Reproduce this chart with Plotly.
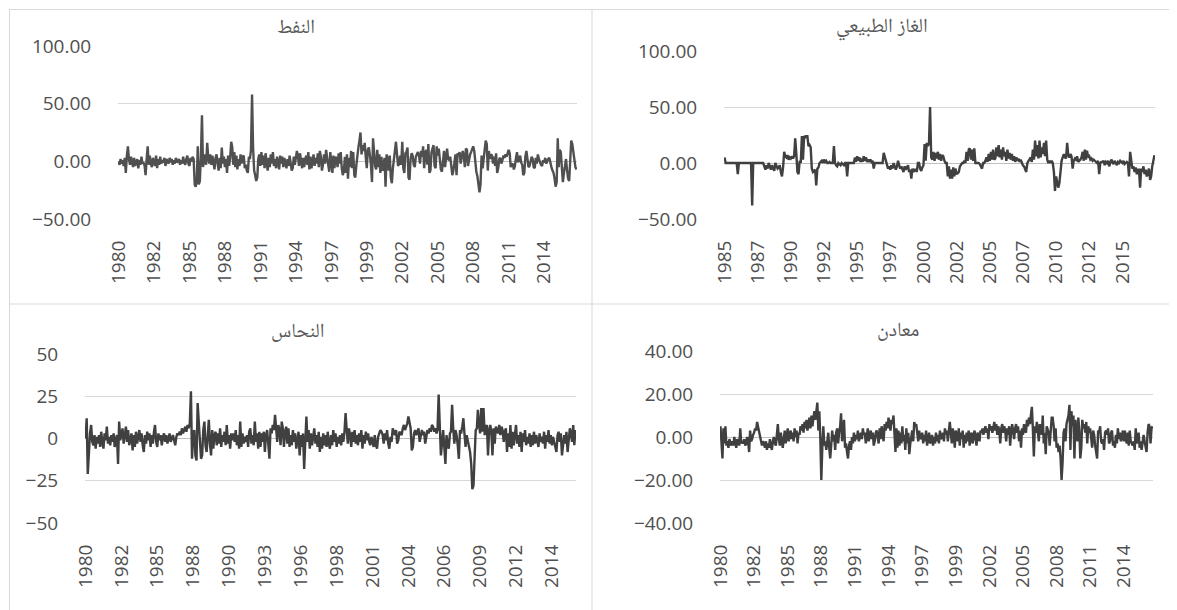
import pandas as pd
import plotly.graph_objects as go

# ---------------- data (monthly % changes) ----------------
oil_title = "النفط"
oil_start = "1980-01-01"
oil_values = [
    0, -3, 2, -2, 1, -4, 3, -10, 5, 13, 2, -3,
    4, -2, -5, 3, -4, -1, 2, -6, 1, -3, 4, -2,
    -1, -4, -12, 2, 13, -3, 5, -2, -5, 3, -1, -4,
    5, -6, 2, -3, 4, -2, 1, -1, 3, -4, 2, 0,
    -2, 3, -1, 2, -3, 1, -2, 3, -1, 0, 2, -3,
    1, -2, 4, -1, -3, 2, 5, -2, -4, 3, 0, 4,
    2, -20, -22, -18, 13, -20, -17, 5, 40, -5, 2, 6,
    -3, 16, 4, -2, 6, -3, 5, -4, -7, 3, 6, -2,
    -8, 3, -6, 12, -2, 4, -5, 2, -10, 5, -4, 3,
    17, 12, -3, 8, -5, 5, -7, 2, -4, 6, -2, 4,
    5, -6, -3, -8, -10, 4, 2, 10, 58, 12, -8, -12,
    -17, -14, 2, 6, -4, 8, -3, 5, -6, 7, -2, -8,
    3, -5, 6, -2, 8, -4, 2, -6, 4, -3, -7, 5,
    -2, 4, -5, 3, -1, -6, 2, -4, 5, -3, -8, -6,
    4, -3, 2, 9, 5, -4, 7, -2, -6, 3, -5, 2,
    5, -3, 8, -7, 4, -6, 2, 6, -4, 3, -2, 7,
    -5, 9, 4, -8, -3, 6, -2, 10, 3, -4, -9, 8,
    -3, -10, 5, -6, 4, 2, -5, 7, -2, 8, -6, -12,
    -8, 4, -10, 6, -15, 3, -5, 9, -6, 8, -12, -14,
    -3, 8, 12, 18, 25, 6, 14, 9, 16, 4, -6, 10,
    12, 5, -3, -18, 20, 8, -4, -7, 10, -5, 6, -10,
    4, -8, -5, 3, -22, 6, 2, -8, 5, -14, -19, -6,
    3, 8, 17, 6, -4, -2, 5, -3, 17, -6, -10, 7,
    8, 12, -14, -16, 2, 7, 5, -3, -5, 4, 6, 8,
    5, -2, 9, 4, 13, -6, 7, 10, -3, 15, -10, -8,
    8, 12, 14, -4, -6, 13, 5, 11, -2, -7, -9, 3,
    9, -5, 4, 11, 2, 1, 4, -3, -12, -8, 2, 6,
    -12, 7, 5, 8, -2, 3, 9, 4, -5, 11, 10, -4,
    3, 6, 8, 10, 13, 9, -3, -9, -13, -22, -27, -20,
    5, -6, 6, 10, 18, 15, -8, 9, 2, 6, 5, -2,
    4, -4, 7, -10, -6, 2, 3, -2, 1, 5, 3, 6,
    4, 8, 10, 7, -5, -3, -2, -7, -4, 3, 8, -1,
    2, 5, -1, -3, -12, -10, 4, 9, 2, -5, -4, 1,
    4, 2, -5, -6, 3, -2, 6, 2, -1, -3, -4, 1,
    -1, 3, -2, 1, 2, 3, -3, -5, -8, -10, -15, -22,
    -18, 20, -5, 10, 8, -3, -18, -10, -5, 2, -8, -15,
    -17, 2, 18, 15, 8, 2, -5, -7,
]

gas_title = "الغاز الطبيعي"
gas_start = "1985-01-01"
gas_values = [
    5, 0, 0, 0, 0, 0, 0, 0, 0, 0, 0, 0,
    -10, 0, 0, 0, 0, 0, 0, 0, 0, 0, 0, 0, 0,
    -38, 0, 0, 0, 0, 0, 0, 0, 0, 0, 0, -3,
    -6, -2, -5, 0, -3, -6, -2, -4, -7, 0, -3, -5, -4,
    -2, -8, -12, -4, 10, 6, 5, 7, 3, 5, 4, 6,
    4, 6, 22, 8, -8, -10, 2, 0, 24, 3, 24, 23,
    24, 24, 15, 16, 14, -5, -8, -7, -6, -20, -5, -4, 0,
    1, 2, 0, 3, 1, 2, 0, 0, 1, 0, 0, 0,
    15, 0, -2, -3, 0, -1, -2, 0, -1, -2, 0, 0,
    -12, 0, 0, 0, 0, 0, 0, 5, 1, 6, 2, 5, 1,
    4, 1, 6, 2, 5, 1, 3, 1, 3, 1, 2, -5,
    0, 0, 0, 0, 0, 0, 0, 0, 9, 5, 3, 0, -5,
    -3, -6, -2, -5, 0, -4, -6, -3, 2, -2, -5, -3,
    -5, -8, -3, -6, -4, -2, -8, -6, -14, -5, -8, -6,
    -6, -8, 0, 0, -5, -7, -4, -2, 17, 2, 18, 15, 18,
    50, 5, 3, 10, 2, 9, 4, 10, 3, 8, 2, 7,
    6, 2, 0, 0, -12, -3, -14, -6, -14, -4, -12, -5,
    -10, -9, -8, -3, -1, 0, 0, 2, 0, 10, 2, 12, 13,
    3, 12, 2, 13, 0, 0, 0, 0, -1, -3, -5, 0,
    0, 2, 5, 1, 8, 2, 10, 3, 12, 3, 4, 14, 6,
    16, 5, 12, 3, 14, 6, 10, 2, 12, 4, 9, 3,
    8, 2, 6, 1, 5, 2, 4, 1, 3, 0, -2, -3,
    -5, -8, 0, 2, 3, 5, 1, 12, 3, 20, 6, 16, 4,
    20, 5, 14, 8, 18, 6, 20, 3, 0, 2, 0, 2,
    0, -8, -25, -12, -20, -22, -18, -5, 2, 5, 8, 5, 4,
    18, 7, 5, 8, 6, -5, 2, 4, 3, 6, 1, 2,
    3, 5, 10, 2, 12, 3, 11, 5, 6, 3, 4, 2,
    3, 2, 1, 0, 2, -10, 0, 1, 1, 2, -2, 1, 0,
    2, -3, 0, 3, 1, -1, 2, 0, -2, 1, 0, 2,
    1, 0, 2, -1, 0, 1, 0, -12, 10, 2, -5, -3,
    -8, -4, -10, -6, -6, -22, -5, -8, -3, -10, -6, -12, -8,
    -5, -15, -12, -3, 2, 7,
]

copper_title = "النحاس"
copper_start = "1980-01-01"
copper_values = [
    0, 12, -21, -5, 3, 8, -2, -4, 2, -6, 1, -3,
    2, -5, 4, -2, -6, 3, -1, 7, -3, 1, -4, 2,
    -2, 3, -5, -1, 2, -15, 10, -1, 3, 6, -3, 2,
    7, -2, 5, -4, -1, 3, -7, 2, -5, 4, -3, 1,
    5, -2, 3, -4, -8, 2, -3, 4, -1, 3, -5, 2,
    -3, 4, 8, -2, -5, 3, -1, 2, -4, 1, 3, -2,
    2, -3, 1, 3, -2, 0, 2, -1, -4, 1, 3, 2,
    4, 2, 6, 3, 5, 7, 4, 8, 6, 9, 28, -12,
    3, 5, -10, -13, 21, 8, -6, -12, -10, 5, 10, -4,
    -8, 6, 11, -3, -10, 5, -6, 2, 4, -4, 3, -3,
    6, -5, 2, -2, 4, -4, 8, -3, 2, -6, 3, -1,
    3, -2, 5, -4, 2, -6, 10, -5, 3, -3, 1, -2,
    2, -5, 4, 6, -3, 2, -4, 10, -2, 3, -6, 4,
    -5, 3, -2, 4, -8, 2, 5, -3, -12, 6, 3, 8,
    5, 14, 3, -2, 8, 5, -4, 10, 6, -5, 4, 7,
    -3, 6, -5, 2, -4, 5, -2, 3, -6, 1, 4, -10,
    2, -5, 3, -18, -4, 13, -2, 5, -6, 3, -4, 2,
    6, -3, 2, -5, 4, -8, 1, -6, 3, -4, 2, -5,
    4, -3, -6, 2, -4, 5, -2, 3, -5, 1, -3, 2,
    -4, 3, -2, 4, 15, 5, -3, 6, 2, -5, 4, -2,
    5, -3, 2, -4, 3, -2, 5, -6, 2, -3, 4, -1,
    3, -2, -4, 1, -3, -5, 2, -4, -6, 1, 3, 5,
    4, 2, -3, 3, -1, 5, -3, -6, 1, -2, 6, 4,
    2, 5, -3, -1, 4, 3, 2, 6, 8, 5, 7, 9,
    13, 10, 6, -7, -5, 3, 5, 2, 4, 6, -2, 3,
    5, 2, 4, -3, 2, 5, 3, 6, 4, 8, 7, 4,
    6, 3, 5, 26, 8, -10, -3, 5, -5, -15, 2, -4,
    -6, 3, 4, 20, 6, -3, 5, 2, -4, -12, 5, 3,
    7, 12, 3, -5, 2, -2, -5, -8, -15, -30, -28, -10,
    5, 6, 17, 8, 3, 18, 4, 18, 2, 6, 8, -10,
    5, 8, 4, -10, 6, -3, 7, 5, 3, 8, 2, 7,
    5, -2, 4, 6, -8, 3, -5, 8, -6, 4, -4, 2,
    8, -3, 2, -5, 4, -8, 3, -2, 5, -4, 1, -3,
    3, -5, 2, -4, 4, -3, 2, -1, -5, 3, -2, 1,
    -3, 4, -6, 2, -2, 5, -3, 2, -4, 1, -2, -3,
    -8, 2, 4, -2, 3, -10, -5, 2, -3, 4, -8, -2,
    6, 3, -2, 8, -4, 5,
]

minerals_title = "معادن"
minerals_start = "1980-01-01"
minerals_values = [
    5, -2, -10, 4, -3, 5, -4, -2, -5, -1, -3, -4,
    -2, -4, 0, -3, -5, -1, -2, -4, 4, -3, -2, -3,
    -1, -4, -3, 0, -2, -7, 3, -2, -1, 1, 2, 4,
    3, 7, 5, 2, 0, -2, -4, -2, -3, -5, -2, -6,
    -3, -5, -1, -4, -6, -2, 0, -3, -4, 1, 6, -1,
    -4, 2, -2, -5, -1, 3, -3, 0, 4, -2, 1, 3,
    -1, 2, -2, 4, 0, 3, -3, 2, 1, 5, 3, 6,
    2, 7, 4, 8, 3, 6, 9, 4, 10, 5, 8, 12,
    8, 12, 16, 3, 12, -1, -20, -5, 5, -4, -2, -6,
    -3, 2, -5, -10, -4, 3, -2, 1, -6, 2, 4, -3,
    2, 5, 11, -2, 3, 8, -5, -3, -7, -10, -4, -2,
    -6, 0, -3, 2, -2, 1, -1, 3, -2, 0, 2, -1,
    4, 1, 2, -3, 0, 4, -2, 1, 3, -1, 2, -4,
    -2, 2, 3, 0, -3, 4, -1, 5, 2, -2, 6, 3,
    7, 4, 9, 5, 3, 8, 6, 10, 2, -7, 4, -5,
    3, -4, 2, -3, 5, -2, 1, -6, 4, -3, 2, -8,
    -3, 1, 3, -2, 7, 5, 6, 2, -2, 3, -1, 0,
    2, -3, 1, -2, 3, -4, -1, 2, -3, -2, 1, -4,
    0, -3, 2, -2, 1, -3, 3, -1, 0, 2, -2, 4,
    1, 3, -2, 5, 7, 2, -3, 4, 1, -5, 3, 0,
    -2, 4, -4, 2, -1, 3, -5, 1, -3, 2, -2, 3,
    -4, 1, 2, -3, 0, 3, -1, -4, 2, 1, -2, 3,
    2, 4, 1, 3, 5, 2, 4, -1, 6, 3, 5, 2,
    4, 7, 3, 6, 1, 5, 3, -3, 4, 6, 2, 5,
    3, -2, 4, 1, 5, -4, 2, 6, 3, -1, 4, 6,
    2, 5, -2, 3, -5, 4, 1, 6, 3, 2, 8, 5,
    9, 6, 10, 14, 4, -9, 5, 2, 7, 3, -2, 6,
    4, 1, 10, -3, 2, -8, 5, 3, 2, -4, 6, 9,
    9, 5, -2, 4, -5, -3, -7, -4, -10, -20, -12, 2,
    4, -2, 6, 8, 10, 15, -6, 12, 5, 10, -10, 8,
    4, -2, 9, 3, -10, -5, 8, 4, 6, 2, 7, -3,
    5, 2, 4, -2, -5, 3, 1, -4, -8, -10, 3, 2,
    5, -2, -3, -1, -6, 2, 3, 1, 4, -3, -2, 2,
    3, -4, -2, -5, 1, -3, 4, -1, 2, -2, 0, 3,
    -2, 3, -1, -3, 2, -4, 3, -2, -3, -4, -2, -6,
    4, -3, -1, 2, -5, -2, -6, -3, 1, -2, -4, -7,
    2, 6, 5, -3, 4, 5,
]

oil_yticks = [-50, 0, 50, 100]
gas_yticks = [-50, 0, 50, 100]
copper_yticks = [-50, -25, 0, 25, 50]
minerals_yticks = [-40, -20, 0, 20, 40]

# label every n-th month (category-axis label interval)
oil_label_step = 34
gas_label_step = 30
copper_label_step = 32
minerals_label_step = 34

# ---------------- layout (pixels) ----------------
W, H = 1177, 610
TICK_FONT = dict(family="Open Sans, Segoe UI, Calibri, sans-serif", size=19, color="#4f4f4f")
TITLE_FONT = dict(family="Times New Roman, Noto Naskh Arabic, DejaVu Sans, serif", size=20, color="#595959")
GRID = "#d9d9d9"

panels = [
    dict(title=oil_title, start=oil_start, values=oil_values, yticks=oil_yticks,
         fmt=".2f", step=oil_label_step, px=(110, 569), py=(38, 211),
         tpos=(288, 18), color="#505050"),
    dict(title=gas_title, start=gas_start, values=gas_values, yticks=gas_yticks,
         fmt=".2f", step=gas_label_step, px=(716, 1147), py=(43, 211),
         tpos=(874, 19), color="#404040"),
    dict(title=copper_title, start=copper_start, values=copper_values, yticks=copper_yticks,
         fmt="d", step=copper_label_step, px=(77, 568), py=(346, 515),
         tpos=(289, 322), color="#404040"),
    dict(title=minerals_title, start=minerals_start, values=minerals_values, yticks=minerals_yticks,
         fmt=".2f", step=minerals_label_step, px=(712, 1145), py=(343, 515),
         tpos=(890, 321), color="#404040"),
]

fig = go.Figure()
layout = dict(width=W, height=H, margin=dict(l=0, r=0, t=0, b=0),
              template="none", paper_bgcolor="white", plot_bgcolor="white",
              showlegend=False)
annotations = []

for i, p in enumerate(panels, start=1):
    xa = "x" if i == 1 else f"x{i}"
    ya = "y" if i == 1 else f"y{i}"
    dates = pd.date_range(p["start"], periods=len(p["values"]), freq="MS")
    fig.add_trace(go.Scatter(x=dates, y=p["values"], mode="lines",
                             line=dict(color=p["color"], width=2.4),
                             xaxis=xa, yaxis=ya, hoverinfo="skip"))
    ticks = dates[::p["step"]]
    x0, x1 = p["px"]
    y0, y1 = p["py"]
    layout["xaxis" if i == 1 else f"xaxis{i}"] = dict(
        domain=[x0 / W, x1 / W], anchor=ya, type="date",
        range=[str(dates[0] - pd.Timedelta(days=15)), str(dates[-1] + pd.Timedelta(days=15))],
        tickmode="array", tickvals=[str(t) for t in ticks],
        ticktext=[str(t.year) for t in ticks], tickangle=-90,
        showgrid=False, zeroline=False, showline=False,
        ticks="outside", ticklen=13, tickcolor="rgba(0,0,0,0)",
        tickfont=TICK_FONT, automargin=False, fixedrange=True)
    layout["yaxis" if i == 1 else f"yaxis{i}"] = dict(
        domain=[(H - y1) / H, (H - y0) / H], anchor=xa,
        range=[p["yticks"][0], p["yticks"][-1]],
        tickmode="array", tickvals=p["yticks"], tickformat=p["fmt"],
        showgrid=True, gridcolor=GRID, gridwidth=1,
        zeroline=True, zerolinecolor="#bfbfbf", zerolinewidth=1,
        showline=False, ticks="outside", ticklen=22, tickcolor="rgba(0,0,0,0)",
        tickfont=TICK_FONT, automargin=False, fixedrange=True)
    annotations.append(dict(text=p["title"], x=p["tpos"][0] / W, y=1 - p["tpos"][1] / H,
                            xref="paper", yref="paper", showarrow=False,
                            xanchor="center", yanchor="middle", font=TITLE_FONT))

# chart borders
def hline(y, xa_, xb_):
    return dict(type="line", xref="paper", yref="paper", x0=xa_ / W, x1=xb_ / W,
                y0=1 - y / H, y1=1 - y / H, line=dict(color=GRID, width=1))

def vline(x, ya_, yb_):
    return dict(type="line", xref="paper", yref="paper", x0=x / W, x1=x / W,
                y0=1 - ya_ / H, y1=1 - yb_ / H, line=dict(color=GRID, width=1))

shapes = [hline(1.5, 1, 1172), hline(296, 1, 1172), hline(606.5, 1, 1172),
          vline(1.5, 1, 607), vline(584, 1, 607), vline(1171.5, 1, 607)]

layout["annotations"] = annotations
layout["shapes"] = shapes
fig.update_layout(**layout)
fig.write_html("out.html")
